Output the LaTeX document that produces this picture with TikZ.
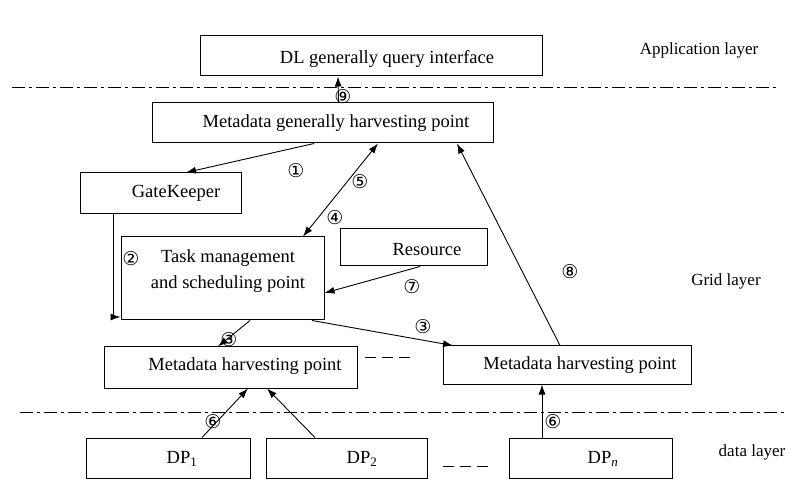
\documentclass[tikz,border=0pt]{standalone}
\usepackage{fontspec}
\setmainfont{Liberation Serif}
\newfontfamily\serifont{Liberation Serif}
\newfontfamily\circfont{DejaVu Sans}
\usetikzlibrary{arrows.meta}

\begin{document}
\begin{tikzpicture}[x=1pt,y=-1pt,font=\serifont\fontsize{18.5}{26}\selectfont,
  every node/.style={inner sep=2pt},
  blk/.style={draw,line width=1pt},
  arr/.style={line width=0.9pt,-{Latex[length=10pt,width=7pt]}},
  num/.style={font=\circfont\fontsize{19}{19}\selectfont},
  lay/.style={font=\serifont\fontsize{17}{20}\selectfont},
  sep/.style={line width=0.9pt,dash pattern=on 13pt off 4pt on 3pt off 4pt}]
  \useasboundingbox (0,0) rectangle (806,486);
  \node[blk,minimum width=342pt,minimum height=40pt] (dl) at (371,56) {};
  \node[blk,minimum width=341pt,minimum height=40pt] (mgh) at (322.5,123) {};
  \node[blk,minimum width=161pt,minimum height=41pt] (gk) at (160.5,193.5) {};
  \node[blk,minimum width=203pt,minimum height=83pt] (task) at (222.5,278.5) {};
  \node[blk,minimum width=147pt,minimum height=37pt] (res) at (413.5,247.5) {};
  \node[blk,minimum width=253pt,minimum height=41pt] (mhl) at (230.5,367.5) {};
  \node[blk,minimum width=248pt,minimum height=38pt] (mhr) at (567,365) {};
  \node[blk,minimum width=164pt,minimum height=40pt] (dp1) at (168,458) {};
  \node[blk,minimum width=161pt,minimum height=40pt] (dp2) at (346.5,458) {};
  \node[blk,minimum width=163pt,minimum height=40pt] (dpn) at (590.5,458) {};
  \node (dlt) at (387,59) {DL generally query interface};
  \node (mght) at (336,123) {Metadata generally harvesting point};
  \node (gkt) at (176,193) {GateKeeper};
  \node[align=center] (taskt) at (228,271) {Task management\\and scheduling point};
  \node (rest) at (427,250) {Resource};
  \node (mhlt) at (245,366) {Metadata harvesting point};
  \node (mhrt) at (580,365) {Metadata harvesting point};
  \node (dp1t) at (182,459) {DP\textsubscript{1}};
  \node (dp2t) at (362,459) {DP\textsubscript{2}};
  \node (dpnt) at (603,459) {DP\textsubscript{\itshape n}};
  \node[lay] (app) at (699,50) {Application layer};
  \node[lay] (grid) at (726,281) {Grid layer};
  \node[lay] (data) at (752,452) {data layer};
  \node[num] (c9) at (343,97) {⑨};
  \node[num] (c1) at (296,171) {①};
  \node[num] (c5) at (360,182) {⑤};
  \node[num] (c4) at (335,218) {④};
  \node[num] (c2) at (131,259) {②};
  \node[num] (c7) at (412,287) {⑦};
  \node[num] (c3l) at (229,340) {③};
  \node[num] (c3r) at (423,327) {③};
  \node[num] (c8) at (570,272) {⑧};
  \node[num] (c6l) at (213,422) {⑥};
  \node[num] (c6r) at (553,422) {⑥};
  \draw[sep] (12,87) -- (777,87);
  \draw[sep] (20,412) -- (787,412);
  \draw[line width=0.9pt,dash pattern=on 11pt off 6pt] (365,357) -- (410,357);
  \draw[line width=0.9pt,dash pattern=on 11pt off 6pt] (443,466) -- (493,466);
  \draw[arr] ([xshift=16pt]mgh.north) -- ([xshift=-33pt]dl.south);
  \draw[arr] ([xshift=-8.5pt]mgh.south) -- ([xshift=25.5pt]gk.north);
  \draw[arr,{Latex[length=10pt,width=7pt]}-{Latex[length=10pt,width=7pt]}] ([xshift=55.5pt]mgh.south) -- ([xshift=80.5pt]task.north);
  \draw[arr] ([xshift=-47.5pt]gk.south) |- ([yshift=-38.5pt]task.west);
  \draw[arr] ([xshift=6.5pt]res.south) -- ([yshift=-14.5pt]task.east);
  \draw[arr] ([xshift=27.5pt]task.south) -- ([xshift=-12.5pt]mhl.north);
  \draw[arr] ([xshift=89.5pt]task.south) -- ([xshift=-114pt]mhr.north);
  \draw[arr] ([xshift=-7pt]mhr.north) -- ([xshift=134.5pt]mgh.south);
  \draw[arr] ([xshift=34pt]dp1.north) -- ([xshift=17.5pt]mhl.south);
  \draw[arr] ([xshift=-31.5pt]dp2.north) -- ([xshift=36.5pt]mhl.south);
  \draw[arr] ([xshift=-48.5pt]dpn.north) -- ([xshift=-25pt]mhr.south);
\end{tikzpicture}
\end{document}
